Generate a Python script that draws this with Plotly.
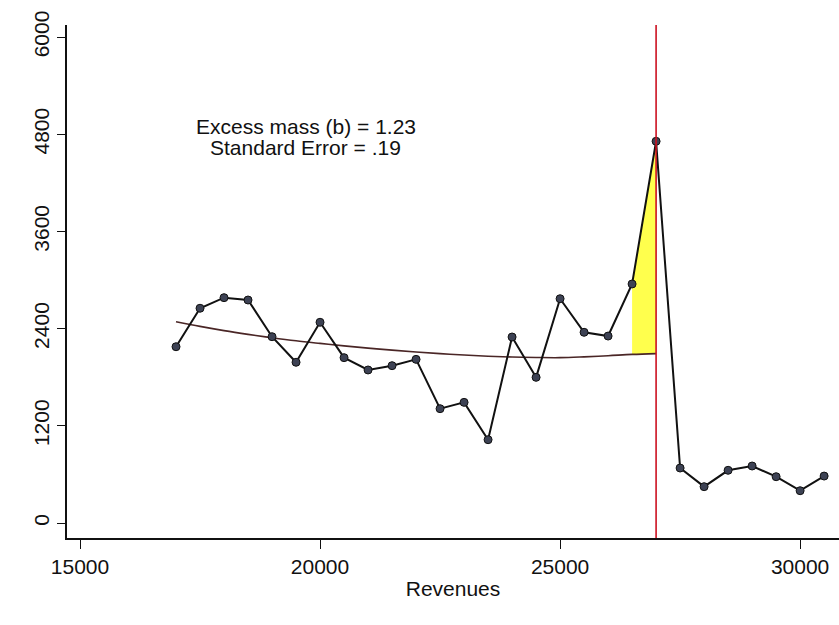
import plotly.graph_objects as go

# Data
revenues = [17000, 17500, 18000, 18500, 19000, 19500, 20000, 20500, 21000, 21500,
            22000, 22500, 23000, 23500, 24000, 24500, 25000, 25500, 26000, 26500,
            27000, 27500, 28000, 28500, 29000, 29500, 30000, 30500]
counts = [2177, 2652, 2783, 2754, 2301, 1985, 2479, 2042, 1890, 1943,
          2021, 1412, 1490, 1029, 2297, 1799, 2770, 2355, 2309, 2952,
          4714, 679, 449, 651, 704, 572, 399, 580]

fit_x = [17000, 17500, 18000, 18500, 19000, 19500, 20000, 20500, 21000, 21500,
         22000, 22500, 23000, 23500, 24000, 24500, 25000, 25500, 26000, 26500, 27000]
fit_y = [2486, 2428, 2376, 2330, 2288, 2250, 2218, 2188, 2160, 2135,
         2112, 2092, 2074, 2060, 2050, 2044, 2042, 2052, 2066, 2082, 2092]

cutoff = 27000
excess_start = 26500
x_ticks = [15000, 20000, 25000, 30000]
y_ticks = [0, 1200, 2400, 3600, 4800, 6000]
annotation_lines = ["Excess mass (b) = 1.23", "Standard Error = .19"]
annotation_y = [4900, 4640]

FONT = "Liberation Sans, Arial, sans-serif"

i0 = revenues.index(excess_start)
i1 = revenues.index(cutoff)
j0 = fit_x.index(excess_start)
j1 = fit_x.index(cutoff)

fig = go.Figure()

# Yellow excess mass region
fig.add_trace(go.Scatter(
    x=[revenues[i0], revenues[i1], fit_x[j1], fit_x[j0], revenues[i0]],
    y=[counts[i0], counts[i1], fit_y[j1], fit_y[j0], counts[i0]],
    fill="toself", fillcolor="#ffff4d", mode="none", hoverinfo="skip",
    showlegend=False))

# Counterfactual fit
fig.add_trace(go.Scatter(
    x=fit_x, y=fit_y, mode="lines", line=dict(color="#4a2626", width=1.6, shape="spline"),
    showlegend=False))

# Observed counts
fig.add_trace(go.Scatter(
    x=revenues, y=counts, mode="lines+markers",
    line=dict(color="#111111", width=2),
    marker=dict(size=8, color="#3d4254", line=dict(color="#111111", width=1)),
    showlegend=False))

# Cutoff line
fig.add_shape(type="line", x0=cutoff, x1=cutoff, y0=0, y1=1, xref="x", yref="paper",
              line=dict(color="#cc1020", width=1.6))

for txt, yy in zip(annotation_lines, annotation_y):
    fig.add_annotation(
        x=19700, y=yy, xref="x", yref="y",
        text=txt, showarrow=False, align="center",
        font=dict(family=FONT, size=21, color="#111111"))

fig.update_layout(
    width=839, height=625,
    margin=dict(l=67, r=0, t=25, b=87),
    paper_bgcolor="white", plot_bgcolor="white",
    font=dict(family=FONT, size=21, color="#111111"),
)
fig.update_xaxes(
    range=[14729, 30810], tickvals=x_ticks, ticktext=[str(v) for v in x_ticks],
    showgrid=False, zeroline=False, showline=True, linecolor="#111111", linewidth=1.5,
    ticks="outside", ticklen=9, tickcolor="#111111", tickwidth=1,
    title=dict(text="Revenues", font=dict(family=FONT, size=21), standoff=4),
    tickfont=dict(family=FONT, size=21))
fig.update_yaxes(
    range=[-185, 6150], tickvals=y_ticks, ticktext=[str(v) for v in y_ticks],
    tickangle=-90,
    showgrid=False, zeroline=False, showline=True, linecolor="#111111", linewidth=1.5,
    ticks="outside", ticklen=8, tickcolor="#111111", tickwidth=1,
    tickfont=dict(family=FONT, size=21))

fig.write_html("out.html")
